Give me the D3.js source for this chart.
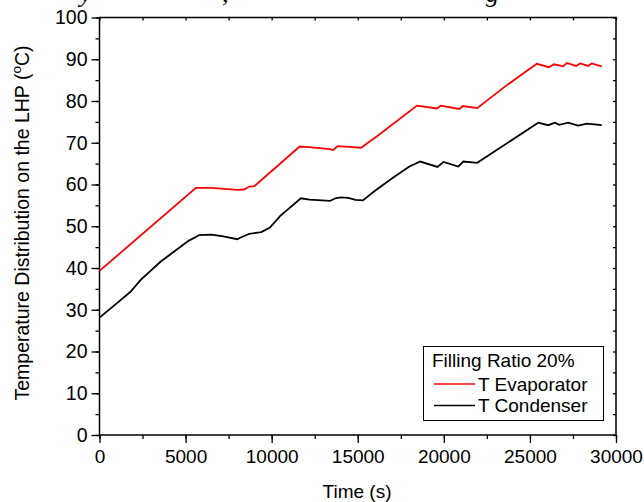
<!DOCTYPE html>
<html><head><meta charset="utf-8">
<script src="https://cdn.jsdelivr.net/npm/d3@7"></script>
<style>
body{margin:0;background:#fff;}
svg text{font-family:Arial,"Liberation Sans",sans-serif;fill:#000;}
</style></head>
<body><svg id="c" width="644" height="502"></svg>
<script>
const timeEvap = [0, 5600, 6500, 8000, 8400, 8700, 9000, 11630, 12000, 13400, 13560, 13830, 14500, 15190, 16100, 18440, 19600, 19830, 20900, 21100, 21940, 23660, 25400, 26100, 26400, 26930, 27150, 27680, 27920, 28380, 28590, 29170];
const evap = [39.3, 59.2, 59.2, 58.7, 58.8, 59.5, 59.6, 69.1, 69.0, 68.5, 68.2, 69.2, 69.0, 68.8, 71.5, 78.9, 78.2, 78.9, 78.1, 78.8, 78.3, 83.8, 88.9, 88.1, 88.8, 88.3, 89.1, 88.4, 89.0, 88.4, 89.0, 88.3];
const timeCond = [0, 930, 1800, 2380, 3540, 5170, 5800, 6500, 7200, 8000, 8200, 8700, 9400, 9900, 10500, 11700, 12200, 13400, 13700, 14000, 14450, 14860, 15300, 16000, 17000, 18000, 18630, 19630, 19980, 20840, 21130, 21940, 25480, 26060, 26460, 26700, 27220, 27800, 28320, 29170];
const cond = [28.1, 31.3, 34.3, 37.1, 41.5, 46.5, 47.9, 48.0, 47.6, 46.9, 47.3, 48.2, 48.6, 49.7, 52.5, 56.7, 56.4, 56.1, 56.7, 56.9, 56.8, 56.3, 56.2, 58.5, 61.5, 64.3, 65.5, 64.2, 65.4, 64.3, 65.5, 65.2, 74.8, 74.2, 74.8, 74.3, 74.8, 74.1, 74.6, 74.2];
const xTicks = [0, 5000, 10000, 15000, 20000, 25000, 30000];
const yTicks = [0, 10, 20, 30, 40, 50, 60, 70, 80, 90, 100];
const seriesNames = ["T Evaporator", "T Condenser"];
const legendTitle = "Filling Ratio 20%";

const svg = d3.select("#c");
const L = 99.5, R = 616, T = 17.5, B = 435;
const x = d3.scaleLinear().domain([0, 30000]).range([L, R]);
const y = d3.scaleLinear().domain([0, 100]).range([B, T]);

// caption above the chart, cut off at the top edge as in the reference
const cap = svg.append("g").attr("font-family", "'Liberation Serif','Times New Roman',serif").attr("font-size", 26).attr("font-style","italic");
cap.append("text").attr("x", 80).attr("y", 2).style("font-family","'Liberation Serif',serif").text("y");
cap.append("text").attr("x", 222).attr("y", 2).style("font-family","'Liberation Serif',serif").text(",");
cap.append("text").attr("x", 486).attr("y", 2).style("font-family","'Liberation Serif',serif").text("g");

const minorX = d3.range(0, 30001, 2500);
const minorY = d3.range(0, 101, 5);
function axisStyle(g){ g.selectAll("path.domain").remove(); g.selectAll("line").attr("stroke","#000").attr("stroke-width",1.3); }

const gx = svg.append("g").attr("transform", `translate(0,${B})`);
gx.call(d3.axisBottom(x).tickValues(minorX).tickSize(4).tickFormat("")).call(axisStyle);
gx.append("g").call(d3.axisBottom(x).tickValues(xTicks).tickSize(8).tickPadding(7).tickFormat(d3.format("d"))).call(axisStyle)
  .selectAll("text").attr("font-size", 19).attr("font-family","Arial,'Liberation Sans',sans-serif");

const gy = svg.append("g").attr("transform", `translate(${L},0)`);
gy.call(d3.axisLeft(y).tickValues(minorY).tickSize(4).tickFormat("")).call(axisStyle);
gy.append("g").call(d3.axisLeft(y).tickValues(yTicks).tickSize(8).tickPadding(4)).call(axisStyle)
  .selectAll("text").attr("font-size", 19.5).attr("font-family","Arial,'Liberation Sans',sans-serif");

// mirrored inward ticks
svg.append("g").attr("transform", `translate(0,${T})`).call(d3.axisBottom(x).tickValues(minorX).tickSize(3).tickFormat("")).call(axisStyle);
svg.append("g").attr("transform", `translate(${R},0)`).call(d3.axisLeft(y).tickValues(minorY).tickSize(3).tickFormat("")).call(axisStyle);

svg.append("rect").attr("x", L).attr("y", T).attr("width", R - L).attr("height", B - T)
  .attr("fill", "none").attr("stroke", "#000").attr("stroke-width", 1.5);

const line = d3.line().x(d => x(d[0])).y(d => y(d[1]));
const evapPts = timeEvap.map((t, i) => [t, evap[i]]);
const condPts = timeCond.map((t, i) => [t, cond[i]]);
svg.append("path").attr("d", line(condPts)).attr("fill", "none").attr("stroke", "#000").attr("stroke-width", 1.8);
svg.append("path").attr("d", line(evapPts)).attr("fill", "none").attr("stroke", "#f00").attr("stroke-width", 1.8);

// axis titles
svg.append("text").attr("x", 357).attr("y", 498).attr("text-anchor", "middle").attr("font-size", 19).text("Time (s)");
const yt = svg.append("text").attr("transform", `translate(29,223) rotate(-90)`).attr("text-anchor", "middle").attr("font-size", 19.5);
yt.append("tspan").text("Temperature Distribution on the LHP (");
yt.append("tspan").attr("font-size", 13.5).attr("dy", -8).text("o");
yt.append("tspan").attr("dy", 8).text("C)");

// legend
const lg = svg.append("g");
lg.append("rect").attr("x", 423.5).attr("y", 346.5).attr("width", 180).attr("height", 74)
  .attr("fill", "#fff").attr("stroke", "#000").attr("stroke-width", 1);
lg.append("text").attr("x", 432).attr("y", 366.5).attr("font-size", 19).text(legendTitle);
const colors = ["#f00", "#000"];
seriesNames.forEach((n, i) => {
  const yy = 384 + i * 21.5;
  lg.append("line").attr("x1", 434).attr("x2", 475).attr("y1", yy).attr("y2", yy).attr("stroke", colors[i]).attr("stroke-width", 1.3);
  lg.append("text").attr("x", 478).attr("y", yy + 6.5).attr("font-size", 19).text(n);
});
</script></body></html>
